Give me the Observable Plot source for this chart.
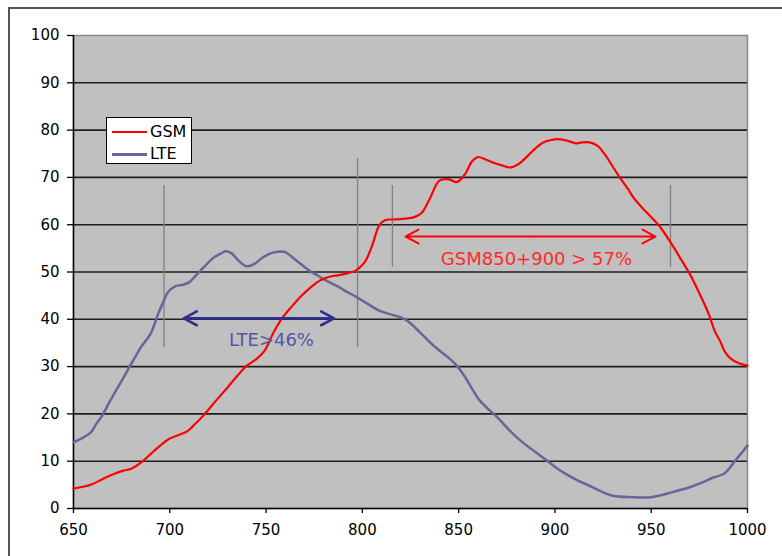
<!DOCTYPE html>
<html>
<head>
<meta charset="utf-8">
<script src="https://cdn.jsdelivr.net/npm/d3@7"></script>
<script src="https://cdn.jsdelivr.net/npm/@observablehq/plot@0.6"></script>
<style>
  html, body { margin: 0; padding: 0; background: #fff; overflow: hidden; }
  #wrap { position: relative; width: 782px; height: 556px; }
  #outer { position: absolute; left: 8px; top: 7px; width: 900px; height: 700px;
           border-top: 2px solid #555; border-left: 2px solid #555; box-sizing: border-box; }
  #chart { position: absolute; left: 0; top: 0; }
  #legend { position: absolute; left: 106px; top: 117px; width: 86px; height: 47px; box-sizing: border-box;
            border: 1px solid #000; background: #fff; font-family: "DejaVu Sans", Verdana, sans-serif; font-size: 16px; }
  .sw { position: absolute; left: 5px; width: 35px; height: 0; }
  .lb { position: absolute; left: 43px; line-height: 18px; color: #000; }
</style>
</head>
<body>
<div id="wrap">
  <div id="outer"></div>
  <div id="chart"></div>
  <div id="legend"></div>
</div>
<script>
// ---- data ----
const seriesNames = ["GSM", "LTE"];
const seriesColors = ["#ff0000", "#666699"];

const gsmWavelength = [650,655,660,665,671,676,680,686,690,695,700,705,709,713,718,724,730,735,740,745,749,754,759,764,768,773,778,783,787,792,797,800,802,805,809,812,816,822,827,831,835,840,845,849,853,857,860,864,868,872,877,881,886,890,894,898,901,906,911,914,918,922,926,930,934,938,941,945,950,955,960,965,970,975,980,983,986,988,991,995,1000];
const gsmValue = [4.2,4.6,5.2,6.2,7.3,8.0,8.4,10.0,11.5,13.3,14.8,15.6,16.3,17.8,19.9,22.8,25.6,28.0,30.2,31.6,33.2,37.3,40.6,43.0,44.8,46.7,48.2,49.0,49.3,49.7,50.4,51.5,52.6,55.5,60.0,61.0,61.1,61.3,61.6,62.6,65.5,69.3,69.6,69.0,70.5,73.4,74.3,73.8,73.1,72.6,72.1,72.8,74.6,76.2,77.4,77.9,78.1,77.8,77.2,77.4,77.4,76.7,74.8,72.3,69.8,67.5,65.6,63.7,61.6,59.3,56.3,53.0,49.6,45.5,41.0,37.5,35.2,33.3,31.8,30.8,30.2];

const lteWavelength = [650,655,659,662,665,668,671,675,679,682,685,690,694,697,699,703,707,710,713,716,720,723,727,729,732,736,740,744,748,752,756,760,764,768,772,777,782,787,792,797,803,809,815,820,824,828,832,836,840,845,849,853,857,861,866,870,876,882,889,896,901,906,912,918,924,930,940,950,958,964,970,976,982,988,994,1000];
const lteValue = [14.0,15.0,16.1,18.0,19.7,22.0,24.2,27.0,29.9,32.0,34.1,36.9,41.2,44.0,45.7,47.0,47.3,47.8,49.0,50.3,52.0,53.1,54.0,54.4,54.0,52.3,51.2,51.7,53.0,53.9,54.3,54.2,53.0,51.7,50.4,49.2,48.0,47.0,45.8,44.7,43.2,41.8,41.0,40.4,39.5,38.0,36.4,34.8,33.4,31.8,30.2,28.0,25.3,22.8,20.8,19.3,16.7,14.4,12.2,10.1,8.5,7.2,5.9,4.8,3.6,2.7,2.4,2.4,3.1,3.8,4.5,5.4,6.5,7.4,10.3,13.3];

const xTicks = [650,700,750,800,850,900,950,1000];
const yTicks = [0,10,20,30,40,50,60,70,80,90,100];
const gridLines = [10,20,30,40,50,60,70,80,90];

// band markers (vertical gray lines)
const markerX  = [697, 797.5, 815.6, 960];
const markerY1 = [34, 34, 51, 51];
const markerY2 = [68.3, 74, 68.3, 68.3];

// double arrows
const arrowLabel = ["LTE>46%", "GSM850+900 > 57%"];
const arrowFrom  = [707.3, 822.4];
const arrowTo    = [785.3, 952.2];
const arrowY     = [40.2, 57.5];
const labelX     = [752.8, 890.4];
const labelY     = [35.5, 52.8];
const arrowColor = ["#2f2f8f", "#ff0000"];
const labelColor = ["#5454a6", "#ff2a2a"];

// ---- build tables ----
const gsm = gsmWavelength.map((x, i) => ({x, y: gsmValue[i], s: "GSM"}));
const lte = lteWavelength.map((x, i) => ({x, y: lteValue[i], s: "LTE"}));
const markers = markerX.map((x, i) => ({x, y1: markerY1[i], y2: markerY2[i]}));
const heads = [];
arrowLabel.forEach((l, i) => {
  const mid = (arrowFrom[i] + arrowTo[i]) / 2;
  heads.push({x1: mid, x2: arrowFrom[i], y: arrowY[i], c: arrowColor[i], w: i === 0 ? 2.6 : 2});
  heads.push({x1: mid, x2: arrowTo[i], y: arrowY[i], c: arrowColor[i], w: i === 0 ? 2.6 : 2});
});
const labels = arrowLabel.map((t, i) => ({t, x: labelX[i], y: labelY[i], c: labelColor[i]}));

const chart = Plot.plot({
  width: 782,
  height: 556,
  marginLeft: 73,
  marginRight: 35,
  marginTop: 35,
  marginBottom: 48,
  x: {domain: [650, 1000]},
  y: {domain: [0, 100]},
  style: {fontFamily: "'DejaVu Sans', Verdana, sans-serif", fontSize: "15px", background: "transparent", color: "#000"},
  marks: [
    Plot.frame({fill: "#c0c0c0", stroke: "#8a8a8a", strokeWidth: 1.5}),
    Plot.ruleY(gridLines, {stroke: "#1e1e1e", strokeWidth: 1.6}),
    Plot.axisY({ticks: yTicks, tickSize: 6, tickPadding: 8, label: null, tickFormat: d => String(d), strokeWidth: 1.3}),
    Plot.axisX({ticks: xTicks, tickSize: 5, tickPadding: 11, label: null, tickFormat: d => String(d), strokeWidth: 1.3}),
    Plot.ruleX([650], {stroke: "#000", strokeWidth: 1.5}),
    Plot.ruleY([0], {stroke: "#000", strokeWidth: 1.5}),
    Plot.ruleX(markers, {x: "x", y1: "y1", y2: "y2", stroke: "#808080", strokeWidth: 1.3}),
    Plot.line(lte, {x: "x", y: "y", stroke: seriesColors[1], strokeWidth: 2.5, curve: "catmull-rom"}),
    Plot.line(gsm, {x: "x", y: "y", stroke: seriesColors[0], strokeWidth: 2.2, curve: "catmull-rom"}),
    Plot.arrow(heads, {x1: "x1", x2: "x2", y1: "y", y2: "y", stroke: "c", strokeWidth: "w", headLength: 22, headAngle: 56}),
    Plot.text(labels, {x: "x", y: "y", text: "t", fill: "c", fontSize: 18})
  ]
});
document.getElementById("chart").appendChild(chart);

// legend
const legend = document.getElementById("legend");
seriesNames.forEach((name, i) => {
  const top = 14 + i * 22;
  const sw = document.createElement("div");
  sw.className = "sw";
  sw.style.top = (top - 1) + "px";
  sw.style.borderTop = (i === 0 ? 2.5 : 3) + "px solid " + seriesColors[i];
  legend.appendChild(sw);
  const lb = document.createElement("div");
  lb.className = "lb";
  lb.style.top = (top - 9) + "px";
  lb.textContent = name;
  legend.appendChild(lb);
});
</script>
</body>
</html>
